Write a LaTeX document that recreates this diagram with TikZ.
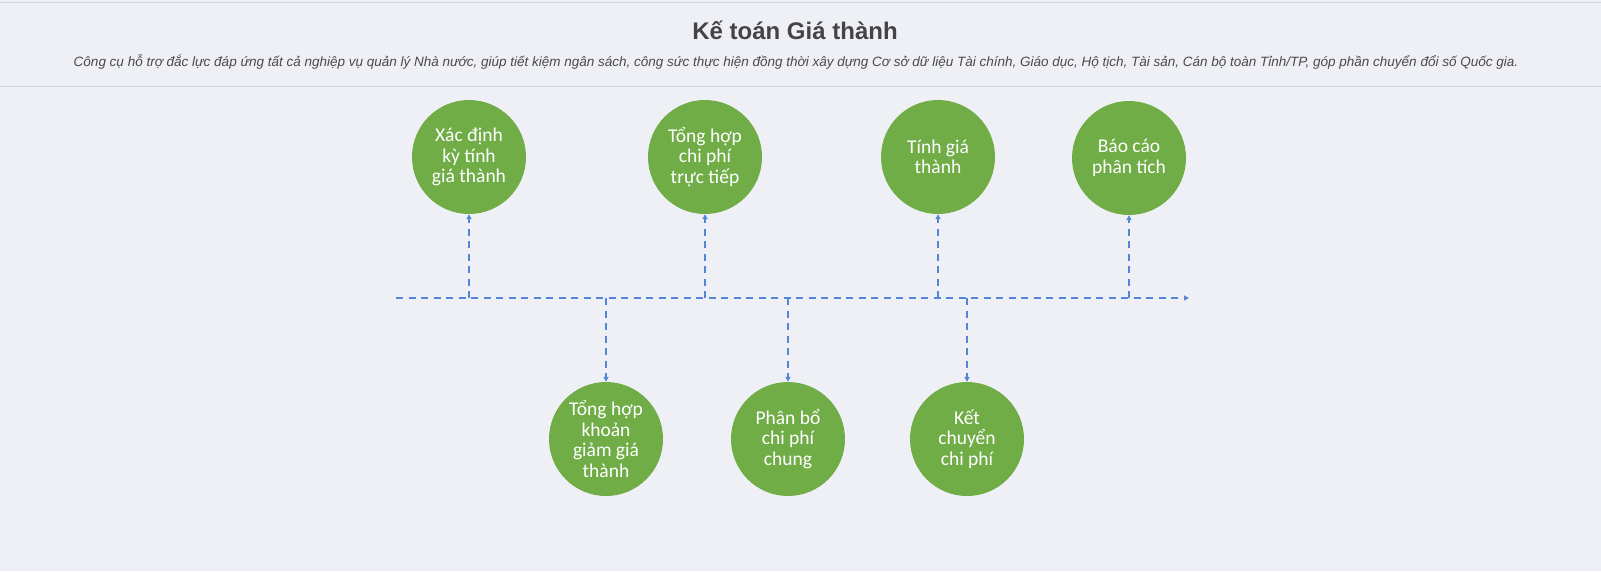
\documentclass[tikz,border=0pt]{standalone}
\usepackage{fontspec}
\setmainfont{Liberation Sans}
\newfontfamily\circfont{Carlito}
\usetikzlibrary{arrows.meta}
\definecolor{bgc}{HTML}{EFF0F5}
\definecolor{rulec}{HTML}{D6D7DC}
\definecolor{titlec}{HTML}{444444}
\definecolor{subc}{HTML}{4A4A4A}
\definecolor{greenc}{HTML}{70AD47}
\definecolor{dashc}{HTML}{5585D8}
\tikzset{
  stage/.style={circle, fill=greenc, draw=none, minimum size=114pt, inner sep=0pt,
    text=white, align=center, font=\circfont\fontsize{19.5}{20.5}\selectfont},
  conn/.style={draw=dashc, line width=2pt, dash pattern=on 7pt off 5.5pt,
    -{Triangle[length=5pt,width=5pt]}},
  rulel/.style={draw=rulec, line width=1pt}
}
\begin{document}
\begin{tikzpicture}[x=1pt,y=-1pt]
\fill[bgc] (0,0) rectangle (1601,571);
\useasboundingbox (0,0) rectangle (1601,571);
\coordinate (r1a) at (0,2); \coordinate (r1b) at (1601,2);
\coordinate (r2a) at (0,86); \coordinate (r2b) at (1601,86);
\draw[rulel] (r1a) -- (r1b);
\draw[rulel] (r2a) -- (r2b);
\node[anchor=base, text=titlec, font=\bfseries\fontsize{24}{28}\selectfont] (title) at (795,39) {Kế toán Giá thành};
\node[anchor=base, text=subc, font=\itshape\fontsize{13.5}{16}\selectfont] (sub) at (796,66) {Công cụ hỗ trợ đắc lực đáp ứng tất cả nghiệp vụ quản lý Nhà nước, giúp tiết kiệm ngân sách, công sức thực hiện đồng thời xây dựng Cơ sở dữ liệu Tài chính, Giáo dục, Hộ tịch, Tài sản, Cán bộ toàn Tỉnh/TP, góp phần chuyển đổi số Quốc gia.};
% circles
\node[stage] (t1) at (469,157) {Xác định\\kỳ tính\\giá thành};
\node[stage] (t2) at (705,157) {Tổng hợp\\chi phí\\trực tiếp};
\node[stage] (t3) at (938,157) {Tính giá\\thành};
\node[stage] (t4) at (1129,158) {Báo cáo\\phân tích};
\node[stage] (b1) at (606,439) {Tổng hợp\\khoản\\giảm giá\\thành};
\node[stage] (b2) at (788,439) {Phân bổ\\chi phí\\chung};
\node[stage] (b3) at (967,439) {Kết\\chuyển\\chi phí};
% axis
\coordinate (s) at (396,298);
\coordinate (e) at (1189,298);
\draw[conn] (s) -- (e);
\foreach \n in {t1,t2,t3,t4,b1,b2,b3}{
  \coordinate (j\n) at (\n |- s);
}
\foreach \n in {t1,t2,t3,t4}{
  \draw[conn] (j\n) -- (\n.south);
}
\foreach \n in {b1,b2,b3}{
  \draw[conn] (j\n) -- (\n.north);
}
\end{tikzpicture}
\end{document}
